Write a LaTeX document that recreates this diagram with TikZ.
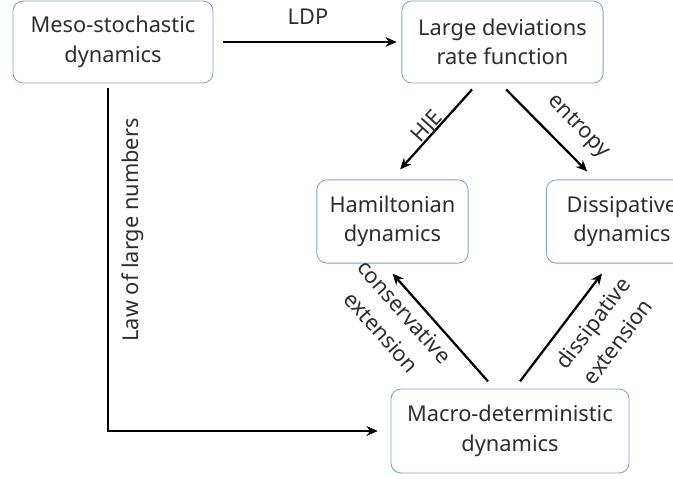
\documentclass[tikz,border=0pt]{standalone}
\usepackage{fontspec}
\setmainfont{Noto Sans}
\usetikzlibrary{arrows.meta}
\definecolor{boxblue}{RGB}{128,162,200}
\definecolor{txtgray}{RGB}{45,45,45}

\begin{document}
\begin{tikzpicture}[x=0.025cm,y=-0.025cm,
    box/.style={draw=boxblue,line width=0.6pt,rounded corners=0.25cm,align=center,
        text=txtgray,inner sep=0pt,font=\fontsize{15.5}{21}\selectfont},
    arr/.style={line width=1.6pt,-{Stealth[length=8pt,width=7pt]}},
    lab/.style={text=txtgray,align=center,inner sep=0pt,font=\fontsize{15.5}{22}\selectfont}]
            \useasboundingbox (0,0) rectangle (673,479);
            \node [box,minimum width=5cm,minimum height=2.05cm] (meso) at (113,42) {Meso-stochastic\\dynamics};
            \node [box,minimum width=5.03cm,minimum height=2.05cm] (ldev) at (502.5,42) {Large deviations\\rate function};
            \node [box,minimum width=3.78cm,minimum height=2.08cm] (ham) at (392.5,221.5) {Hamiltonian\\dynamics};
            \node [box,minimum width=3.78cm,minimum height=2.08cm] (diss) at (622,221.5) {Dissipative\\dynamics};
            \node [box,minimum width=5.95cm,minimum height=2.1cm] (macro) at (510,431) {Macro-deterministic\\dynamics};
            \draw [arr] ([xshift=0.25cm]meso.east) -- ([xshift=-0.12cm]ldev.west);
            \draw [arr] ([xshift=-0.76cm,yshift=-0.15cm]ldev.south) -- ([xshift=0.19cm,yshift=0.25cm]ham.north);
            \draw [arr] ([xshift=0.09cm,yshift=-0.15cm]ldev.south) -- ([xshift=-0.87cm,yshift=0.2cm]diss.north);
            \draw [arr] ([xshift=-0.55cm,yshift=0.18cm]macro.north) -- ([yshift=-0.25cm]ham.south);
            \draw [arr] ([xshift=0.25cm,yshift=0.18cm]macro.north) -- ([xshift=-0.5cm,yshift=-0.25cm]diss.south);
            \draw [arr] ([xshift=-0.125cm,yshift=-0.125cm]meso.south) |- ([xshift=-0.32cm]macro.west);
            \node [lab] (ldp) at (308,17) {LDP};
            \node [lab,rotate=48] (hje) at (428,127) {HJE};
            \node [lab,rotate=-46] (ent) at (578,127) {entropy};
            \node [lab,rotate=90] (lln) at (133,230) {Law of large numbers};
            \node [lab,rotate=-48.6] (cons) at (393,322) {conservative\\extension};
            \node [lab,rotate=53] (dext) at (605,332) {dissipative\\extension};
        \end{tikzpicture}
\end{document}
